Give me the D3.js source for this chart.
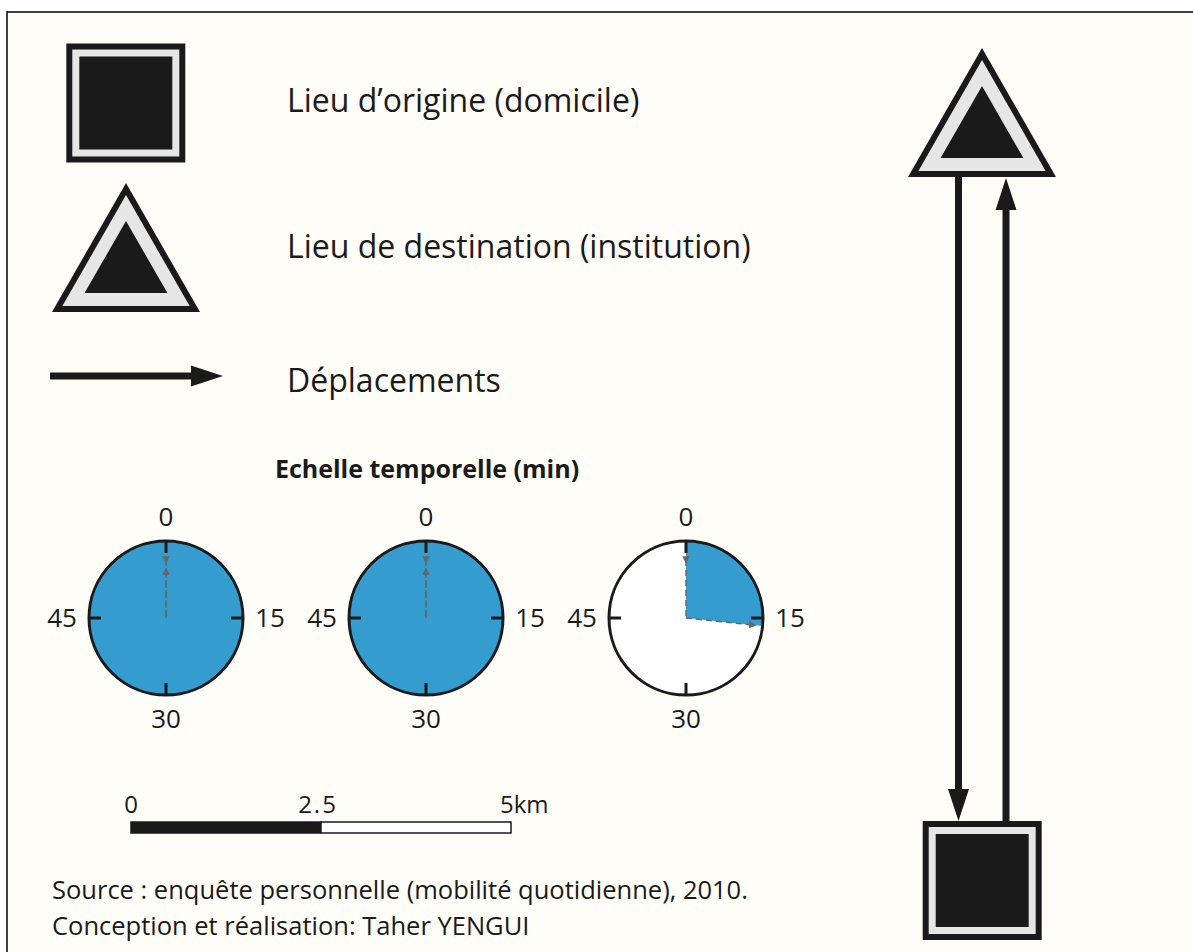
<!DOCTYPE html>
<html><head><meta charset="utf-8">
<script src="https://cdn.jsdelivr.net/npm/d3@7"></script>
<style>
body{margin:0;background:#fff}
text{font-family:"Open Sans",sans-serif;fill:#1a1a1a}
</style>
</head><body>
<svg id="c" width="1193" height="952"></svg>
<script>
const legendLabels = ["Lieu d’origine (domicile)", "Lieu de destination (institution)", "Déplacements"];
const chartTitle = "Echelle temporelle (min)";
const clockMinutes = [60, 60, 16];
const clockTicks = [0, 15, 30, 45];
const scaleStops = [0, 2.5, 5];
const scaleLabels = ["0", "2.5", "5km"];
const sourceLines = ["Source : enquête personnelle (mobilité quotidienne), 2010.", "Conception et réalisation: Taher YENGUI"];

const BLACK = "#1a1a1a", GRAY = "#e6e6e6", BLUE = "#349ccf";
const svg = d3.select("#c");

svg.append("rect").attr("x", 7).attr("y", 12).attr("width", 1250).attr("height", 1000)
  .attr("fill", "#fefdf8").attr("stroke", "#111").attr("stroke-width", 1.6);

function squareSym(cx, cy) {
  const g = svg.append("g");
  [[59.5, BLACK], [53.5, GRAY], [46.5, BLACK]].forEach(([h, c]) =>
    g.append("rect").attr("x", cx - h).attr("y", cy - h).attr("width", 2 * h).attr("height", 2 * h).attr("fill", c));
}
function triSym(cx, base) {
  const g = svg.append("g");
  const outer = [[0, -129], [-74, 0], [74, 0]];
  const inc = -42.9;
  [[1, BLACK], [0.86, GRAY], [0.56, BLACK]].forEach(([k, c]) => {
    const pts = outer.map(([x, y]) => [cx + x * k, base + inc + (y - inc) * k]);
    g.append("path").attr("d", d3.line()(pts) + "Z").attr("fill", c);
  });
}
function arrow(x1, y1, x2, y2) {
  const dx = x2 - x1, dy = y2 - y1, L = Math.hypot(dx, dy), ux = dx / L, uy = dy / L;
  const hl = 32, hw = 10.5;
  const bx = x2 - ux * hl, by = y2 - uy * hl;
  svg.append("line").attr("x1", x1).attr("y1", y1).attr("x2", bx + ux).attr("y2", by + uy)
    .attr("stroke", BLACK).attr("stroke-width", 7);
  svg.append("path").attr("d", d3.line()([[x2, y2], [bx - uy * hw, by + ux * hw], [bx + uy * hw, by - ux * hw]]) + "Z")
    .attr("fill", BLACK);
}

// Legend
squareSym(125.8, 103);
triSym(126, 312);
arrow(50, 376, 223, 376);
const legendY = [112, 258, 392];
legendLabels.forEach((t, i) => svg.append("text").attr("x", 287).attr("y", legendY[i]).attr("font-size", 32).text(t));

// Right diagram
triSym(982, 177);
squareSym(982.2, 880.5);
arrow(958.5, 174, 958.5, 821);
arrow(1006, 824, 1006, 178);

// Clocks
svg.append("text").attr("x", 427).attr("y", 478).attr("text-anchor", "middle")
  .attr("font-size", 25).attr("font-weight", "bold").text(chartTitle);

const R = 77, cy = 618;
const cx = d3.scalePoint().domain(d3.range(clockMinutes.length)).range([166, 686]);
const ang = d3.scaleLinear().domain([0, 60]).range([0, 2 * Math.PI]);
const arc = d3.arc().innerRadius(0).outerRadius(R).startAngle(0);
const defs = svg.append("defs");
defs.append("marker").attr("id", "mk").attr("viewBox", "0 0 10 10").attr("refX", 5).attr("refY", 5)
  .attr("markerWidth", 5).attr("markerHeight", 5).attr("orient", "auto")
  .append("path").attr("d", "M0,0L10,5L0,10Z").attr("fill", "#666");

clockMinutes.forEach((m, i) => {
  const g = svg.append("g").attr("transform", `translate(${cx(i)},${cy})`);
  g.append("circle").attr("r", R).attr("fill", "#fff");
  g.append("path").attr("d", arc.endAngle(ang(m))()).attr("fill", BLUE);
  g.append("circle").attr("r", R).attr("fill", "none").attr("stroke", BLACK).attr("stroke-width", 3);
  clockTicks.forEach(t => {
    const a = ang(t);
    g.append("line").attr("x1", Math.sin(a) * (R - 12)).attr("y1", -Math.cos(a) * (R - 12))
      .attr("x2", Math.sin(a) * R).attr("y2", -Math.cos(a) * R).attr("stroke", BLACK).attr("stroke-width", 3);
    g.append("text").attr("x", Math.sin(a) * (R + 27)).attr("y", -Math.cos(a) * (R + 24))
      .attr("dy", "0.36em").attr("text-anchor", "middle").attr("font-size", 26).text(t);
  });
  // dashed radii: start radius (arrow pointing to centre) and end radius (arrow pointing out)
  const a0 = ang(0), a1 = ang(m);
  g.append("line").attr("x1", Math.sin(a0) * 58).attr("y1", -Math.cos(a0) * 58).attr("x2", 0).attr("y2", 0)
    .attr("stroke", "#666").attr("stroke-width", 1.5).attr("stroke-dasharray", "6,4")
    .attr("marker-start", "url(#mk)");
  const r1 = m >= 60 ? 47 : 67;
  g.append("line").attr("x1", 0).attr("y1", 0).attr("x2", Math.sin(a1) * r1).attr("y2", -Math.cos(a1) * r1)
    .attr("stroke", "#666").attr("stroke-width", 1.5).attr("stroke-dasharray", "6,4")
    .attr("marker-end", "url(#mk)");
});

// Scale bar
const sx = d3.scaleLinear().domain([0, 5]).range([131, 511]);
d3.pairs(scaleStops).forEach(([a, b], i) =>
  svg.append("rect").attr("x", sx(a)).attr("y", 822).attr("width", sx(b) - sx(a)).attr("height", 11)
    .attr("fill", i % 2 ? "#fff" : BLACK).attr("stroke", BLACK).attr("stroke-width", 1.5));
scaleStops.forEach((s, i) => {
  const last = i === scaleStops.length - 1;
  svg.append("text").attr("x", last ? sx(s) - 11 : sx(s) - (i ? 3 : 0)).attr("y", 813)
    .attr("text-anchor", last ? "start" : "middle").attr("font-size", 24)
    .attr("letter-spacing", i === 1 ? 2 : 0).text(scaleLabels[i]);
});

// Source
sourceLines.forEach((t, i) => svg.append("text").attr("x", 52).attr("y", 899 + i * 36).attr("font-size", 25.5).text(t));
</script>
</body></html>
